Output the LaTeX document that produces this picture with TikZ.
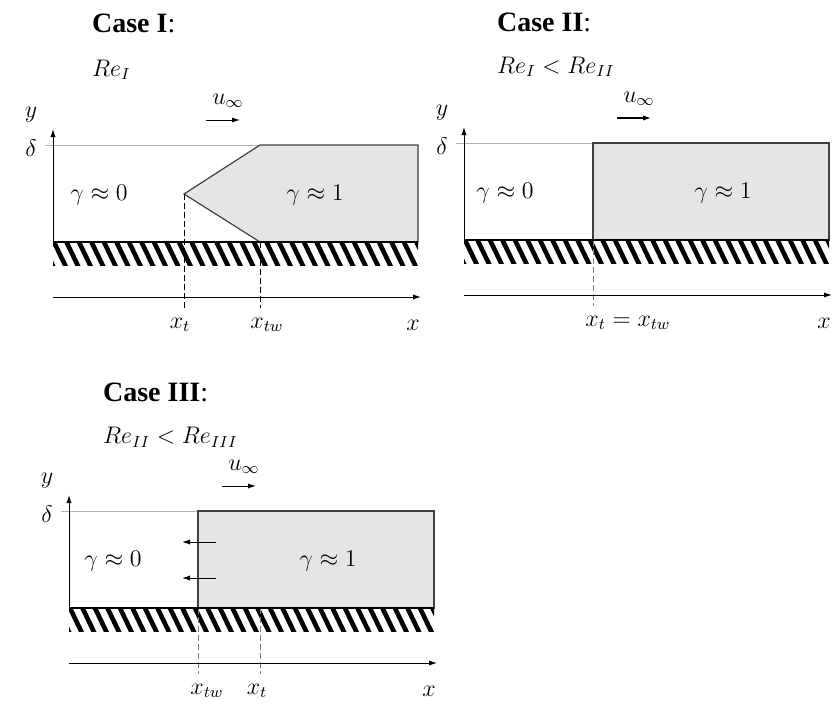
\documentclass[tikz,border=0pt]{standalone}
\usepackage{amsmath, amssymb}
\usepackage{fontspec}
\setmainfont{Liberation Serif}
\usetikzlibrary{arrows.meta,positioning}

\begin{document}
\begin{tikzpicture}[x=0.5pt, y=0.5pt,
    every node/.style={font=\fontsize{12}{14}\selectfont},
    judul/.style={anchor=west, font=\fontsize{14}{16}\selectfont},
    sumbu/.style={line width=0.5pt, -{Latex[length=4pt,width=2.6pt]}},
    batas/.style={gray!60, line width=0.5pt},
    zona/.style={fill=gray!20, draw=black!75, line width=0.6pt},
    putus/.style={dash pattern=on 3pt off 1.5pt, line width=0.45pt}]

    \useasboundingbox (0,0) rectangle (833,703);

    % 1. Titik bantu dan arsiran dinding tiap kasus
    \foreach \px/\py/\k in {53/461/A, 464/463/B, 69/95/C} {
        \begin{scope}[shift={(\px,\py)}, name prefix=\k-]
            \coordinate (o)  at (0,0);
            \coordinate (ka) at (365,0);
            \coordinate (yt) at (0,113);
            \coordinate (dl) at (-8,97);
            \coordinate (dr) at (365,97);
            \coordinate (xo) at (0,-55);
            \coordinate (xe) at (368,-55);
            \coordinate (ua) at (153,122);
            \coordinate (ub) at (187,122);
            \begin{scope}
                \clip (0,0) rectangle (365,-23);
                \foreach \i in {-1,...,31}
                    \draw[line width=2.3pt] (\i*12.5,2) -- ++(13,-27);
            \end{scope}
        \end{scope}
    }

    % 2. Kasus I
    \begin{scope}[shift={(53,461)}, name prefix=A-]
        \node[judul] (judul) at (32,219) {\textbf{Case I}:};
        \node[anchor=west] (re) at (32,172) {$Re_I$};
        \coordinate (ujung) at (131,48);
        \coordinate (atas) at (207,97);
        \coordinate (bawah) at (207,0);
        \coordinate (t1) at (131,-66);
        \coordinate (t2) at (207,-66);
        \draw[batas] (dl) -- (atas);
        \filldraw[zona] (ujung) -- (atas) -- (dr) -- (ka) -- (bawah) -- cycle;
        \draw[putus] (ujung) -- (t1);
        \draw[putus] (bawah) -- (t2);
        \node (g0) at (46,47) {$\gamma \approx 0$};
        \node (g1) at (262,47) {$\gamma \approx 1$};
        \node (xt) at (127,-83) {$x_t$};
        \node (xtw) at (214,-83) {$x_{tw}$};
    \end{scope}

    % 3. Kasus II
    \begin{scope}[shift={(464,463)}, name prefix=B-]
        \node[judul] (judul) at (26,218) {\textbf{Case II}:};
        \node[anchor=west] (re) at (26,173) {$Re_I < Re_{II}$};
        \coordinate (atas) at (129,97);
        \coordinate (bawah) at (129,0);
        \coordinate (t1) at (129,-66);
        \draw[batas] (dl) -- (atas);
        \filldraw[zona] (bawah) rectangle (dr);
        \draw[putus, gray] (bawah) -- (t1);
        \node (g0) at (41,47) {$\gamma \approx 0$};
        \node (g1) at (259,47) {$\gamma \approx 1$};
        \node (xt) at (164,-83) {$x_t = x_{tw}$};
    \end{scope}

    % 4. Kasus III
    \begin{scope}[shift={(69,95)}, name prefix=C-]
        \node[judul] (judul) at (27,216) {\textbf{Case III}:};
        \node[anchor=west] (re) at (27,171) {$Re_{II} < Re_{III}$};
        \coordinate (atas) at (129,97);
        \coordinate (bawah) at (129,0);
        \coordinate (t1) at (129,-66);
        \coordinate (t2) at (191,0);
        \coordinate (t3) at (191,-66);
        \coordinate (p1) at (147,66);
        \coordinate (q1) at (113,66);
        \coordinate (p2) at (147,30);
        \coordinate (q2) at (113,30);
        \draw[batas] (dl) -- (atas);
        \filldraw[zona] (bawah) rectangle (dr);
        \draw[putus, gray] (bawah) -- (t1);
        \draw[putus, gray] (t2) -- (t3);
        \draw[sumbu] (p1) -- (q1);
        \draw[sumbu] (p2) -- (q2);
        \node (g0) at (44,47) {$\gamma \approx 0$};
        \node (g1) at (259,47) {$\gamma \approx 1$};
        \node (xtw) at (138,-83) {$x_{tw}$};
        \node (xt) at (188,-83) {$x_t$};
    \end{scope}

    % 5. Dinding, sumbu dan label yang sama
    \foreach \px/\py/\k in {53/461/A, 464/463/B, 69/95/C} {
        \begin{scope}[shift={(\px,\py)}, name prefix=\k-]
            \draw[line width=0.9pt] (o) -- (ka);
            \draw[sumbu] (o) -- (yt);
            \draw[sumbu] (xo) -- (xe);
            \draw[sumbu] (ua) -- (ub);
            \node (ylab) at (-22,127) {$y$};
            \node (dlab) at (-22,94) {$\delta$};
            \node (ulab) at (175,141) {$u_\infty$};
            \node (xlab) at (360,-83) {$x$};
        \end{scope}
    }

\end{tikzpicture}
\end{document}
